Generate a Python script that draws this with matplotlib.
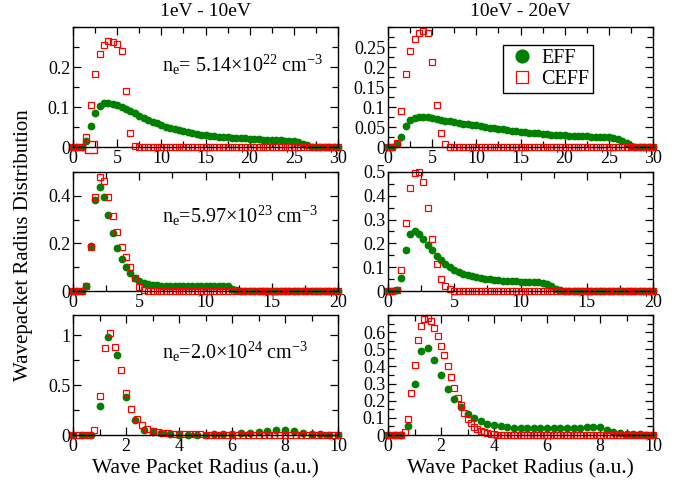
import numpy as np
import matplotlib
matplotlib.use("Agg")
import matplotlib.pyplot as plt
from matplotlib.ticker import MultipleLocator, FormatStrFormatter

plt.rcParams["font.family"] = ["Liberation Serif", "DejaVu Serif"]
plt.rcParams["mathtext.fontset"] = "custom"
plt.rcParams["mathtext.rm"] = "Liberation Serif"
plt.rcParams["mathtext.default"] = "regular"

# ---- data ----
# top row, x 0..30 (step 0.5)
eff_low_1 = [0, 0, 0.001, 0.015, 0.053, 0.086, 0.103, 0.109, 0.11, 0.108, 0.104, 0.099, 0.094,
             0.089, 0.084, 0.078, 0.073, 0.068, 0.063, 0.059, 0.055, 0.051, 0.048, 0.045, 0.042,
             0.04, 0.037, 0.035, 0.033, 0.031, 0.03, 0.028, 0.027, 0.026, 0.025, 0.024, 0.023,
             0.0225, 0.022, 0.0215, 0.021, 0.02, 0.019, 0.0185, 0.018, 0.0175, 0.017, 0.0165,
             0.016, 0.015, 0.014, 0.012, 0.008, 0.004, 0.001, 0, 0, 0, 0, 0, 0]
ceff_low_1 = [0, 0, 0, 0.026, 0.104, 0.183, 0.233, 0.256, 0.265, 0.263, 0.257, 0.24, 0.141,
              0.034, 0.003] + [0] * 46
eff_high_1 = [0, 0.001, 0.007, 0.026, 0.052, 0.067, 0.072, 0.0745, 0.0745, 0.074, 0.072, 0.07,
              0.068, 0.066, 0.064, 0.062, 0.06, 0.0585, 0.057, 0.0555, 0.054, 0.052, 0.05,
              0.0485, 0.047, 0.0455, 0.044, 0.0425, 0.041, 0.0395, 0.038, 0.037, 0.036, 0.035,
              0.034, 0.033, 0.032, 0.031, 0.03, 0.0295, 0.029, 0.0285, 0.028, 0.0275, 0.027,
              0.0265, 0.026, 0.0255, 0.025, 0.0245, 0.024, 0.023, 0.021, 0.016, 0.009, 0.003,
              0, 0, 0, 0, 0]
ceff_high_1 = [0, 0.001, 0.009, 0.09, 0.182, 0.24, 0.271, 0.286, 0.291, 0.286, 0.213, 0.106,
               0.035, 0.007] + [0] * 47

# middle row, x 0..20 (step 1/3)
eff_low_2 = [0, 0, 0, 0.02, 0.19, 0.383, 0.437, 0.394, 0.318, 0.245, 0.182, 0.134, 0.1, 0.075,
             0.055, 0.042, 0.035, 0.03, 0.027, 0.025, 0.023, 0.022, 0.021, 0.02, 0.02, 0.019,
             0.019, 0.019, 0.019, 0.019, 0.019, 0.02, 0.02, 0.021, 0.022, 0.02, 0.01, 0.004,
             0.001] + [0] * 22
ceff_low_2 = [0, 0, 0, 0.02, 0.185, 0.394, 0.48, 0.463, 0.397, 0.317, 0.246, 0.185, 0.141,
              0.101, 0.056, 0.018, 0.006, 0.002] + [0] * 43
eff_high_2 = [0, 0, 0.003, 0.055, 0.172, 0.24, 0.252, 0.241, 0.218, 0.193, 0.172, 0.149, 0.131,
              0.115, 0.1, 0.089, 0.08, 0.073, 0.067, 0.062, 0.058, 0.054, 0.051, 0.049, 0.047,
              0.045, 0.043, 0.042, 0.041, 0.04, 0.038, 0.038, 0.037, 0.037, 0.036, 0.035, 0.03,
              0.02, 0.01, 0.003] + [0] * 21
ceff_high_2 = [0, 0, 0.004, 0.087, 0.286, 0.434, 0.494, 0.5, 0.458, 0.349, 0.22, 0.115, 0.052,
               0.02, 0.007, 0.002] + [0] * 45

# bottom row, x 0..10
eff_low_3 = [0, 0, 0.003, 0.293, 0.977, 0.8, 0.38, 0.147, 0.05, 0.033, 0.017, 0.008, 0.005,
             0.004, 0.004, 0.005, 0.006, 0.008, 0.01, 0.02, 0.023, 0.03, 0.037, 0.047, 0.053,
             0.04, 0.023, 0.013, 0.006, 0.003, 0]
ceff_low_3 = [0, 0, 0, 0, 0.047, 0.393, 0.867, 1.02, 0.883, 0.647, 0.423, 0.257, 0.157, 0.1,
              0.057, 0.043, 0.03, 0.02, 0.016, 0.013, 0.01, 0.009, 0.008, 0.007, 0.006, 0.005,
              0.004, 0.004, 0.004, 0.004, 0.004, 0.004, 0.003, 0.003, 0.003, 0.003, 0.003,
              0.003, 0.003, 0.003, 0.003, 0.002, 0.002, 0.002, 0.002, 0.002, 0.002, 0.002,
              0.002, 0.002, 0.002]
eff_high_3 = [0, 0, 0, 0.051, 0.3, 0.49, 0.508, 0.435, 0.351, 0.27, 0.208, 0.161, 0.125, 0.098,
              0.08, 0.067, 0.057, 0.051, 0.047, 0.043, 0.041, 0.04, 0.039, 0.039, 0.039, 0.04,
              0.04, 0.041, 0.042, 0.043, 0.044, 0.045, 0.046, 0.03, 0.02, 0.014, 0.008, 0.005,
              0.003, 0.001, 0]
ceff_high_3 = [0, 0, 0, 0, 0.002, 0.016, 0.092, 0.243, 0.41, 0.553, 0.637, 0.676, 0.682, 0.663,
               0.625, 0.575, 0.522, 0.469, 0.404, 0.339, 0.276, 0.218, 0.173, 0.127, 0.096,
               0.071, 0.049, 0.033, 0.024, 0.016, 0.01, 0.006, 0.004, 0.002] + [0] * 47

density_labels = [r"n$_e$= 5.14$\times$10$^{22}$ cm$^{-3}$",
                  r"n$_e$=5.97$\times$10$^{23}$ cm$^{-3}$",
                  r"n$_e$=2.0$\times$10$^{24}$ cm$^{-3}$"]
col_titles = ["1eV - 10eV", "10eV - 20eV"]

panels = [
    # (eff, ceff, xmax, xmajor, ymax, yticks, yminor)
    [(eff_low_1, ceff_low_1, 30, 5, 0.3, [0, 0.1, 0.2], 0.05),
     (eff_high_1, ceff_high_1, 30, 5, 0.3, [0, 0.05, 0.1, 0.15, 0.2, 0.25], 0.025)],
    [(eff_low_2, ceff_low_2, 20, 5, 0.5, [0, 0.2, 0.4], 0.1),
     (eff_high_2, ceff_high_2, 20, 5, 0.5, [0, 0.1, 0.2, 0.3, 0.4, 0.5], 0.05)],
    [(eff_low_3, ceff_low_3, 10, 2, 1.2, [0, 0.5, 1], 0.25),
     (eff_high_3, ceff_high_3, 10, 2, 0.7, [0, 0.1, 0.2, 0.3, 0.4, 0.5, 0.6], 0.05)],
]

fig = plt.figure(figsize=(6.77, 4.87), dpi=100)
W, H = 677.0, 487.0
lefts = [73, 388]
tops = [27, 172, 315]
bottoms = [147, 291, 435]

green = "#008000"
red = "#ff0000"

for r in range(3):
    for c in range(2):
        eff, ceff, xmax, xmaj, ymax, yt, ymin_step = panels[r][c]
        ax = fig.add_axes([lefts[c] / W, 1 - bottoms[r] / H, 265 / W, (bottoms[r] - tops[r]) / H])
        xe = np.linspace(0, xmax, len(eff))
        xc = np.linspace(0, xmax, len(ceff))
        le, = ax.plot(xe, eff, "o", color=green, ms=4.6, mec=green, clip_on=False, label="EFF")
        lc, = ax.plot(xc, ceff, "s", color=red, ms=4.0, mfc="none", mec=red, mew=0.9,
                      clip_on=False, label="CEFF")
        ax.set_xlim(0, xmax)
        ax.set_ylim(0, ymax)
        ax.xaxis.set_major_locator(MultipleLocator(xmaj))
        ax.xaxis.set_minor_locator(MultipleLocator(xmaj / 2))
        ax.set_yticks(yt)
        ax.yaxis.set_minor_locator(MultipleLocator(ymin_step))
        ax.xaxis.set_major_formatter(FormatStrFormatter("%g"))
        ax.yaxis.set_major_formatter(FormatStrFormatter("%g"))
        ax.tick_params(which="both", direction="in", top=True, right=True, labelsize=13,
                       width=0.9, pad=2)
        ax.tick_params(which="major", length=6)
        ax.tick_params(which="minor", length=4)
        for s in ax.spines.values():
            s.set_linewidth(1.0)
        if c == 0:
            ypos = [0.625, 0.571, 0.633][r]
            ax.text(0.336, ypos, density_labels[r], transform=ax.transAxes, fontsize=14.5,
                    va="baseline", ha="left")
            if r == 0:
                ax.plot([2], [0], "s", ms=9, mfc="none", mec=red, mew=1.0, clip_on=False)
        if r == 0 and c == 1:
            ax.legend(handles=[le, lc], loc="upper right", bbox_to_anchor=(0.775, 0.85),
                      borderaxespad=0, fontsize=14.5, markerscale=2.0, frameon=True,
                      fancybox=False, edgecolor="black", framealpha=1, handletextpad=0.2,
                      borderpad=0.2, labelspacing=0.1, handlelength=1.5)
            ax.get_legend().get_frame().set_linewidth(1.0)
        if r == 2:
            ax.set_xlabel("Wave Packet Radius (a.u.)", fontsize=15.5, labelpad=3)

for c in range(2):
    fig.text((lefts[c] + 132.5) / W, 1 - 12 / H, col_titles[c], ha="center", va="center",
             fontsize=14)

fig.text(24 / W, 1 - 245 / H, "Wavepacket Radius Distribution", rotation=90, ha="center",
         va="center", fontsize=15)

fig.savefig("out.png", dpi=100)
